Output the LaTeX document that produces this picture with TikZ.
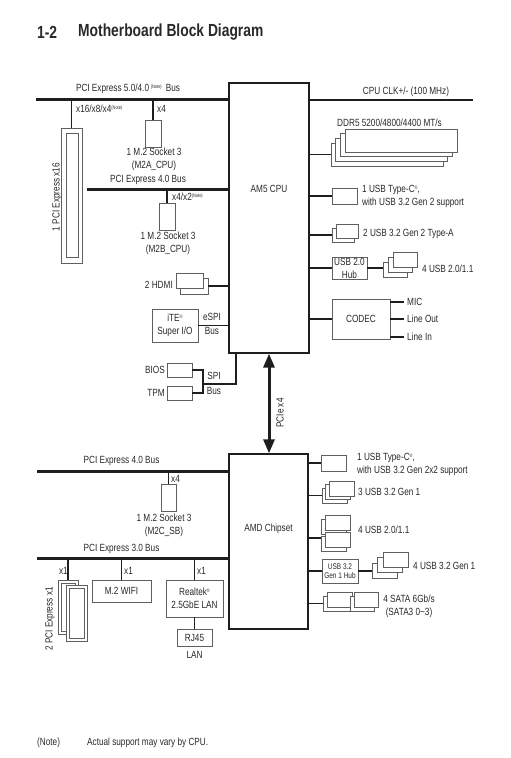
\documentclass[tikz,border=0pt]{standalone}
\usepackage{fontspec}
\setmainfont{Liberation Sans}[FakeStretch=0.79]
\usetikzlibrary{arrows.meta}
\definecolor{txtgray}{RGB}{40,40,40}
\definecolor{boxgray}{RGB}{95,95,95}
\definecolor{linegray}{RGB}{30,30,30}
\newcommand\lblfont{\fontsize{10.4}{13}\selectfont}
\newcommand\smallfont{\fontsize{8.2}{9.5}\selectfont}
\newcommand\titlefont{\fontsize{17.5}{20}\selectfont\bfseries}
\newcommand\notesup{\raisebox{3pt}{\fontsize{5}{5}\selectfont(Note)}}
\newcommand\regmark{\raisebox{3pt}{\fontsize{5}{5}\selectfont\textregistered}}

\tikzset{
	box/.style={draw=boxgray, line width=0.7pt, fill=white, inner sep=0pt, align=center, text=txtgray, font=\lblfont},
	chipbox/.style={draw=linegray, line width=1.3pt, inner sep=0pt},
	bus/.style={draw=linegray, line width=3pt},
	link/.style={draw=linegray, line width=1.3pt},
	lbl/.style={inner sep=0pt, text=txtgray, font=\lblfont, align=center},
	sz/.style 2 args={minimum width=#1pt, minimum height=#2pt},
}

\begin{document}
\begin{tikzpicture}[x=1pt, y=-1pt]
	\useasboundingbox (0,0) rectangle (511,758);
	% title
	\node[lbl, anchor=west, font=\titlefont] (num) at (37,32) {1-2};
	\node[lbl, anchor=west, font=\titlefont] (title) at (78,32) {Motherboard Block Diagram};

	% cpu and chipset
	\node[chipbox, sz={80}{270}] (cpu) at (269,218) {};
	\node[lbl] (cpulbl) at (269,189) {AM5 CPU};
	\node[chipbox, sz={79}{175}] (chip) at (268.5,541.5) {};
	\node[lbl] (chiplbl) at (268.5,529) {AMD Chipset};
	\draw[link, line width=3pt, {Triangle[width=11pt,length=14pt]}-{Triangle[width=11pt,length=14pt]}] (cpu.south) -- (cpu.south |- chip.north);
	\node[lbl, rotate=90] (pcielbl) at (280,413) {PCIe x4};

	% cpu, left side
	\coordinate (busA) at (36,99);
	\draw[bus] (busA) -- (busA -| cpu.west);
	\node[lbl] (busAlbl) at (128,89) {PCI Express 5.0/4.0\,\notesup\, Bus};
	\node[box, sz={21}{135}] (slot16) at (71.5,195.5) {};
	\node[box, sz={12}{124}] (slot16in) at (72,195) {};
	\node[lbl, rotate=90] (slot16lbl) at (57,197) {1 PCI Express x16};
	\draw[link] (slot16.north) -- (slot16.north |- busA);
	\node[lbl, anchor=west] (x16lbl) at (76,109) {x16/x8/x4\notesup};
	\node[box, sz={16}{27}] (m2a) at (153,133.5) {};
	\draw[link] (m2a.north) -- (m2a.north |- busA);
	\node[lbl, anchor=west] (m2ax) at (157,109) {x4};
	\node[lbl] (m2albl) at (154,159) {1 M.2 Socket 3\\(M2A\_CPU)};

	\coordinate (busB) at (87,189);
	\draw[bus] (busB) -- (busB -| cpu.west);
	\node[lbl] (busBlbl) at (148,180) {PCI Express 4.0 Bus};
	\node[box, sz={16}{27}] (m2b) at (167,216.5) {};
	\draw[link] (m2b.north) -- (m2b.north |- busB);
	\node[lbl, anchor=west] (m2bx) at (172,197) {x4/x2\notesup};
	\node[lbl] (m2blbl) at (168,243) {1 M.2 Socket 3\\(M2B\_CPU)};

	\node[box, sz={28}{16}] (hdmib) at (194,286) {};
	\node[box, sz={27}{15}] (hdmia) at (189.5,280.5) {};
	\draw[link] (hdmib.east) -- (hdmib.east -| cpu.west);
	\node[lbl, anchor=east] (hdmilbl) at (173,285) {2 HDMI};

	\node[box, sz={46}{33}] (sio) at (175,325.5) {iTE\regmark\\Super I/O};
	\draw[link] (sio.east) -- (sio.east -| cpu.west);
	\node[lbl] (espi) at (212,317) {eSPI};
	\node[lbl] (espibus) at (212,331) {Bus};

	\node[box, sz={25}{14}] (bios) at (179.5,370) {};
	\node[box, sz={25}{14}] (tpm) at (179.5,393) {};
	\node[lbl, anchor=east] (bioslbl) at (165,370) {BIOS};
	\node[lbl, anchor=east] (tpmlbl) at (165,393) {TPM};
	\coordinate (spi) at (203,384);
	\draw[link] (bios.east) -| (tpm.east -| spi) -- (tpm.east);
	\draw[link] (spi) -| ([xshift=-33pt]cpu.south);
	\node[lbl] (spilbl) at (214,376) {SPI};
	\node[lbl] (spibus) at (214,391) {Bus};

	% cpu, right side
	\coordinate (clk) at (473,100);
	\draw[link] (clk -| cpu.east) -- (clk);
	\node[lbl] (clklbl) at (406,92) {CPU CLK+/- (100 MHz)};
	\node[lbl] (ddrlbl) at (389.5,123) {DDR5 5200/4800/4400 MT/s};
	\foreach \i in {3,2,1,0}
		\node[box, sz={112}{23}] (dimm\i) at ({401-4.67*\i},{140.5+4.67*\i}) {};
	\draw[link] (dimm3.west -| cpu.east) -- (dimm3.west);

	\node[box, sz={25}{16}] (cpuusbc) at (344.5,196) {};
	\draw[link] (cpuusbc.west -| cpu.east) -- (cpuusbc.west);
	\node[lbl, anchor=west, align=left] (cpuusbclbl) at (362,196) {1 USB Type-C\regmark,\\with USB 3.2 Gen 2 support};

	\node[box, sz={22}{14}] (usbab) at (343,235) {};
	\node[box, sz={22}{14}] (usbaa) at (347,231) {};
	\draw[link] (usbab.west -| cpu.east) -- (usbab.west);
	\node[lbl, anchor=west] (usbalbl) at (363,234) {2 USB 3.2 Gen 2 Type-A};

	\node[box, sz={35}{22}] (hub2) at (349.5,268) {USB 2.0\\Hub};
	\draw[link] (hub2.west -| cpu.east) -- (hub2.west);
	\foreach \i in {2,1,0}
		\node[box, sz={24}{15}] (usbtwo\i) at ({405-5*\i},{259.5+5*\i}) {};
	\draw[link] (hub2.east) -- (hub2.east -| usbtwo2.west);
	\node[lbl, anchor=west] (usbtwolbl) at (422,269) {4 USB 2.0/1.1};

	\node[box, sz={58}{40}] (codec) at (361,319) {CODEC};
	\draw[link] (codec.west -| cpu.east) -- (codec.west);
	\foreach \yy/\txt [count=\k] in {302/MIC, 319/Line Out, 337/Line In} {
		\coordinate (aud\k) at (404,\yy);
		\draw[link] (aud\k -| codec.east) -- (aud\k);
		\node[lbl, anchor=west] (audlbl\k) at (407,\yy) {\txt};
	}

	% chipset, left side
	\coordinate (busC) at (37,471);
	\draw[bus] (busC) -- (busC -| chip.west);
	\node[lbl] (busClbl) at (121.5,461) {PCI Express 4.0 Bus};
	\node[box, sz={15}{27}] (m2c) at (168.5,497.5) {};
	\draw[link] (m2c.north) -- (m2c.north |- busC);
	\node[lbl, anchor=west] (m2cx) at (171,479) {x4};
	\node[lbl] (m2clbl) at (164,525) {1 M.2 Socket 3\\(M2C\_SB)};

	\coordinate (busD) at (37,558);
	\draw[bus] (busD) -- (busD -| chip.west);
	\node[lbl] (busDlbl) at (121.5,549) {PCI Express 3.0 Bus};
	\node[box, sz={20}{54}] (slotb) at (68,607) {};
	\node[box, sz={14}{48}] (slotbin) at (68,607) {};
	\node[box, sz={21}{56}] (slota) at (76.5,613) {};
	\node[box, sz={15}{50}] (slotain) at (76.5,613) {};
	\draw[link] (slotb.north) -- (slotb.north |- busD);
	\node[lbl, anchor=east] (slotx) at (68,571) {x1};
	\node[lbl, rotate=90] (slotlbl) at (50,619) {2 PCI Express x1};

	\node[box, sz={59}{22}] (wifi) at (121.5,591) {M.2 WIFI};
	\draw[link] (wifi.north) -- (wifi.north |- busD);
	\node[lbl, anchor=west] (wifix) at (124,571) {x1};
	\node[box, sz={57}{37}] (lan) at (194.5,598.5) {Realtek\regmark\\2.5GbE LAN};
	\draw[link] (lan.north) -- (lan.north |- busD);
	\node[lbl, anchor=west] (lanx) at (197,571) {x1};
	\node[box, sz={35}{17}] (rj45) at (194.5,637.5) {RJ45};
	\draw[link] (lan.south) -- (rj45.north);
	\node[lbl] (rjlbl) at (194.5,655) {LAN};

	% chipset, right side
	\node[box, sz={25}{16}] (chipusbc) at (333.5,463) {};
	\draw[link] (chipusbc.west -| chip.east) -- (chipusbc.west);
	\node[lbl, anchor=west, align=left] (chipusbclbl) at (357,464) {1 USB Type-C\regmark,\\with USB 3.2 Gen 2x2 support};

	\foreach \i in {2,1,0}
		\node[box, sz={25}{15}] (gen1\i) at ({341.5-3.5*\i},{488.5+3.5*\i}) {};
	\draw[link] (gen12.west -| chip.east) -- (gen12.west);
	\node[lbl, anchor=west] (gen1lbl) at (358,492) {3 USB 3.2 Gen 1};

	\node[box, sz={25}{15}] (u2tb) at (333.5,526.5) {};
	\node[box, sz={25}{15}] (u2ta) at (337.5,522.5) {};
	\node[box, sz={25}{15}] (u2bb) at (333.5,543.5) {};
	\node[box, sz={25}{15}] (u2ba) at (337.5,539.5) {};
	\coordinate (u2j) at (321,538);
	\draw[link] (u2j -| chip.east) -- (u2j);
	\node[lbl, anchor=west] (u2lbl) at (358,530) {4 USB 2.0/1.1};

	\node[box, sz={36}{24}, font=\smallfont] (hub3) at (340,571) {USB 3.2\\Gen 1 Hub};
	\draw[link] (hub3.west -| chip.east) -- (hub3.west);
	\foreach \i in {2,1,0}
		\node[box, sz={25}{15}] (gen1h\i) at ({395.5-5.5*\i},{559.5+5.5*\i}) {};
	\draw[link] (hub3.east) -- (hub3.east -| gen1h2.west);
	\node[lbl, anchor=west] (gen1hlbl) at (413,566) {4 USB 3.2 Gen 1};

	\node[box, sz={27}{15}] (sata1b) at (336.5,603.5) {};
	\node[box, sz={25}{15}] (sata1a) at (339.5,599.5) {};
	\node[box, sz={24}{15}] (sata2b) at (362,603.5) {};
	\node[box, sz={24}{15}] (sata2a) at (366,599.5) {};
	\draw[link] (sata1b.west -| chip.east) -- (sata1b.west);
	\node[lbl] (satalbl) at (409,606) {4 SATA 6Gb/s\\(SATA3 0\textasciitilde3)};

	% note
	\node[lbl, anchor=west] (note) at (37,743) {(Note)};
	\node[lbl, anchor=west] (notetxt) at (87,743) {Actual support may vary by CPU.};
\end{tikzpicture}
\end{document}
